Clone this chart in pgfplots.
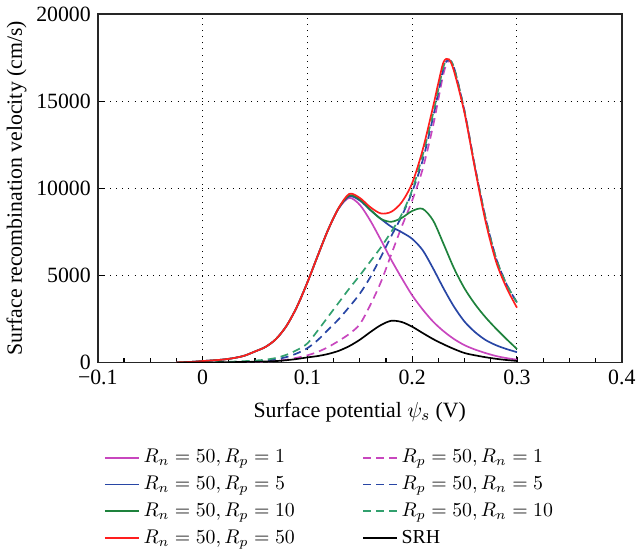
\documentclass[border=0pt]{standalone}
\usepackage{fontspec}
\setmainfont{Liberation Serif}
\usepackage{pgfplots}
\usepackage{pgfplotstable}
\pgfplotsset{compat=1.18}

\definecolor{cmag}{RGB}{200,70,190}
\definecolor{cblue}{RGB}{40,70,165}
\definecolor{cgreen}{RGB}{30,130,60}
\definecolor{cgreend}{RGB}{50,160,110}
\definecolor{cred}{RGB}{255,30,30}

% Rn=50, Rp=1
\pgfplotstableread{
x y
-0.025 15
-0.02 20
-0.01 45
0 90
0.01 130
0.02 180
0.03 265
0.04 400
0.05 640
0.06 900
0.07 1350
0.08 2100
0.09 3200
0.1 4600
0.11 6150
0.12 7650
0.13 8850
0.14 9450
0.15 9050
0.16 8150
0.17 7050
0.18 5900
0.19 4850
0.2 3860
0.21 3050
0.22 2350
0.23 1800
0.24 1350
0.25 1000
0.26 750
0.27 550
0.28 380
0.29 260
0.3 170
}\tA
% Rn=50, Rp=5
\pgfplotstableread{
x y
-0.025 15
-0.02 20
-0.01 45
0 90
0.01 130
0.02 180
0.03 265
0.04 400
0.05 640
0.06 900
0.07 1350
0.08 2100
0.09 3200
0.1 4600
0.11 6150
0.12 7650
0.13 8870
0.14 9540
0.15 9300
0.16 8750
0.17 8250
0.18 7800
0.19 7480
0.2 7100
0.21 6450
0.22 5400
0.23 4250
0.24 3200
0.25 2350
0.26 1750
0.27 1300
0.28 1000
0.29 780
0.3 600
}\tB
% Rn=50, Rp=10
\pgfplotstableread{
x y
-0.025 15
-0.02 20
-0.01 45
0 90
0.01 130
0.02 180
0.03 265
0.04 400
0.05 640
0.06 900
0.07 1350
0.08 2100
0.09 3200
0.1 4600
0.11 6150
0.12 7650
0.13 8880
0.14 9600
0.15 9360
0.16 8780
0.17 8250
0.18 8080
0.19 8300
0.2 8700
0.21 8820
0.22 8150
0.23 6800
0.24 5400
0.25 4250
0.26 3350
0.27 2600
0.28 1950
0.29 1350
0.3 780
}\tC
% Rn=50, Rp=50
\pgfplotstableread{
x y
-0.025 15
-0.02 20
-0.01 45
0 90
0.01 130
0.02 180
0.03 265
0.04 400
0.05 640
0.06 900
0.07 1350
0.08 2100
0.09 3200
0.1 4600
0.11 6150
0.12 7650
0.13 8890
0.14 9680
0.15 9450
0.16 8920
0.17 8560
0.18 8650
0.19 9200
0.2 10300
0.21 12200
0.22 14700
0.225 16050
0.23 17250
0.235 17400
0.24 16700
0.25 14300
0.26 11100
0.27 8100
0.28 5800
0.29 4300
0.3 3150
}\tD
% Rp=50, Rn=1
\pgfplotstableread{
x y
-0.025 0
-0.02 2
-0.01 5
0 10
0.01 15
0.02 20
0.03 25
0.04 30
0.05 40
0.06 60
0.07 100
0.08 170
0.09 280
0.1 420
0.11 620
0.12 900
0.13 1250
0.14 1650
0.15 2200
0.16 3300
0.17 4600
0.18 6200
0.19 7800
0.2 9300
0.21 11100
0.22 13600
0.23 16600
0.235 17300
0.24 16900
0.25 14400
0.26 11200
0.27 8300
0.28 6000
0.29 4500
0.3 3450
}\tE
% Rp=50, Rn=5
\pgfplotstableread{
x y
-0.025 0
-0.02 5
-0.01 10
0 15
0.01 20
0.02 30
0.03 40
0.04 55
0.05 80
0.06 120
0.07 190
0.08 320
0.09 530
0.1 830
0.11 1300
0.12 1900
0.13 2500
0.14 3200
0.15 3950
0.16 4900
0.17 6050
0.18 7250
0.19 8400
0.2 9800
0.21 11600
0.22 14100
0.23 16900
0.235 17350
0.24 16900
0.25 14400
0.26 11200
0.27 8300
0.28 6000
0.29 4500
0.3 3450
}\tF
% Rp=50, Rn=10
\pgfplotstableread{
x y
-0.025 0
-0.02 5
-0.01 12
0 20
0.01 30
0.02 45
0.03 60
0.04 85
0.05 120
0.06 170
0.07 270
0.08 450
0.09 720
0.1 1100
0.11 1850
0.12 2650
0.13 3450
0.14 4250
0.15 5000
0.16 5800
0.17 6600
0.18 7500
0.19 8500
0.2 9900
0.21 11900
0.22 14300
0.23 17000
0.235 17350
0.24 16900
0.25 14400
0.26 11200
0.27 8300
0.28 6000
0.29 4500
0.3 3450
}\tG
% SRH
\pgfplotstableread{
x y
-0.025 0
-0.02 2
-0.01 5
0 10
0.01 15
0.02 20
0.03 30
0.04 40
0.05 50
0.06 65
0.07 90
0.08 140
0.09 210
0.1 300
0.11 380
0.12 500
0.13 680
0.14 950
0.15 1310
0.16 1750
0.17 2150
0.18 2400
0.19 2330
0.2 2060
0.21 1700
0.22 1350
0.23 1050
0.24 780
0.25 550
0.26 420
0.27 310
0.28 220
0.29 150
0.3 100
}\tH

\begin{document}
\begin{tikzpicture}
\begin{axis}[
  scale only axis, width=264.5pt, height=176pt,
  xmin=-0.1, xmax=0.4, ymin=0, ymax=20000,
  scaled y ticks=false, scaled x ticks=false,
  xtick={-0.1,0,0.1,0.2,0.3,0.4},
  xticklabels={−0.1,0,0.1,0.2,0.3,0.4},
  ytick={0,5000,10000,15000,20000},
  yticklabels={0,5000,10000,15000,20000},
  minor x tick num=3,
  grid=major,
  major grid style={black, line width=0.5pt, dash pattern=on 0.5pt off 2.6pt},
  tick align=inside, xtick pos=bottom, ytick pos=left,
  major tick length=3pt, minor tick length=2.5pt,
  axis line style={line width=0.8pt, black!85},
  tick style={black, line width=0.6pt},
  ticklabel style={font=\fontsize{11}{13}\selectfont},
  label style={font=\fontsize{11}{13}\selectfont},
  xlabel={Surface potential $\psi_s$ (V)},
  ylabel={Surface recombination velocity (cm/s)},
  xlabel style={yshift=-2pt},
  ylabel style={yshift=-2pt},
  every axis plot/.append style={line width=0.85pt, smooth},
  legend columns=2,
  legend cell align=left,
  legend style={at={(0,-0.225)}, anchor=north west, draw=none, fill=none,
    font=\fontsize{10}{12}\selectfont, row sep=1.2pt,
    /tikz/every even column/.append style={column sep=32pt}},
]
\addplot[cmag] table {\tA};
\addlegendentry{$R_n = 50, R_p = 1$}
\addplot[cmag, dash pattern=on 4pt off 2.6pt] table {\tE};
\addlegendentry{$R_p = 50, R_n = 1$}
\addplot[cblue] table {\tB};
\addlegendentry{$R_n = 50, R_p = 5$}
\addplot[cblue, dash pattern=on 4pt off 2.6pt] table {\tF};
\addlegendentry{$R_p = 50, R_n = 5$}
\addplot[cgreen] table {\tC};
\addlegendentry{$R_n = 50, R_p = 10$}
\addplot[cgreend, dash pattern=on 4pt off 2.6pt] table {\tG};
\addlegendentry{$R_p = 50, R_n = 10$}
\addplot[cred] table {\tD};
\addlegendentry{$R_n = 50, R_p = 50$}
\addplot[black] table {\tH};
\addlegendentry{SRH}
\end{axis}
\end{tikzpicture}
\end{document}
